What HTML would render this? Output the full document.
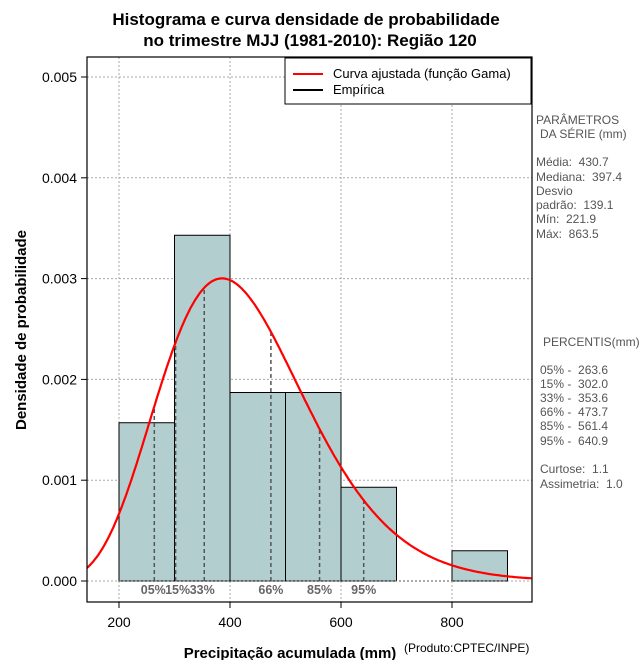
<!DOCTYPE html>
<html><head><meta charset="utf-8"><style>
body{margin:0;background:#fff;width:640px;height:660px;overflow:hidden}
svg{font-family:"Liberation Sans",sans-serif}
text{white-space:pre}
</style></head><body>
<svg id="c" width="640" height="660"></svg>
<script>
const binStarts=[200,300,400,500,600,700,800];
const binDensity=[0.00157,0.00343,0.00187,0.00187,0.00093,0,0.0003];
const gammaParams=[9.59,44.9];
const percentileLabels=["05%","15%","33%","66%","85%","95%"];
const percentileValues=[263.6,302.0,353.6,473.7,561.4,640.9];
const xTicks=[200,400,600,800];
const yTicks=[0,0.001,0.002,0.003,0.004,0.005];
const yTickLabels=["0.000","0.001","0.002","0.003","0.004","0.005"];
const binWidth=100;

const NS="http://www.w3.org/2000/svg";
const svg=document.getElementById('c');
const L=87,R=532,T=57,B=602;
const x=v=>119+(v-200)*0.555;
const y=v=>581-v*100800;
function el(t,a,txt){const e=document.createElementNS(NS,t);for(const k in a)e.setAttribute(k,a[k]);if(txt!=null)e.textContent=txt;svg.appendChild(e);return e;}
function lgamma(z){const g=[76.18009172947146,-86.50532032941677,24.01409824083091,-1.231739572450155,0.1208650973866179e-2,-0.5395239384953e-5];let xx=z,yy=z,tmp=xx+5.5;tmp-=(xx+0.5)*Math.log(tmp);let ser=1.000000000190015;for(let j=0;j<6;j++)ser+=g[j]/++yy;return -tmp+Math.log(2.5066282746310005*ser/xx);}
function pdf(v){const k=gammaParams[0],th=gammaParams[1];return Math.exp((k-1)*Math.log(v)-v/th-lgamma(k)-k*Math.log(th));}

xTicks.forEach(t=>{const g=el('line',{x1:x(t),x2:x(t),y1:T,y2:B,stroke:'#aaa','stroke-dasharray':'2,2'});});
yTicks.forEach(t=>{const g=el('line',{x1:L,x2:R,y1:y(t),y2:y(t),stroke:'#aaa','stroke-dasharray':'2,2'});});
binStarts.forEach((s,i)=>{if(binDensity[i]<=0)return;const r=el('rect',{x:x(s),y:y(binDensity[i]),width:x(s+binWidth)-x(s),height:y(0)-y(binDensity[i]),fill:'#b3cece',stroke:'#000','stroke-width':1});});
el('line',{x1:x(200),x2:x(900),y1:y(0),y2:y(0),stroke:'#555','stroke-dasharray':'2,2'});
percentileValues.forEach((p,i)=>{const l=el('line',{x1:x(p),x2:x(p),y1:y(0),y2:y(pdf(p)),stroke:'#555','stroke-width':1.5,'stroke-dasharray':'4,3'});});
percentileLabels.forEach((t,i)=>{const tx=el('text',{x:x(percentileValues[i])+(i==0?-1:i==1?2:i==2?-2:0),y:594,'text-anchor':'middle','font-size':12.5,'font-weight':'bold',fill:'#666'},t);});
let d='';for(let v=142;v<=944;v+=3){d+=(d?'L':'M')+x(v).toFixed(1)+','+y(pdf(v)).toFixed(1);}
const cp=document.createElementNS(NS,'clipPath');cp.id='clip';const cr=document.createElementNS(NS,'rect');cr.setAttribute('x',L);cr.setAttribute('y',T);cr.setAttribute('width',R-L);cr.setAttribute('height',B-T);cp.appendChild(cr);svg.appendChild(cp);
const cv=el('path',{d:d,fill:'none',stroke:'#f00','stroke-width':2.2,'clip-path':'url(#clip)'});
el('rect',{x:L,y:T,width:R-L,height:B-T,fill:'none',stroke:'#000','stroke-width':1.2});
xTicks.forEach(t=>{el('line',{x1:x(t),x2:x(t),y1:B,y2:B+6,stroke:'#000'});const tx=el('text',{x:x(t),y:627,'text-anchor':'middle','font-size':14},t);});
yTicks.forEach((t,i)=>{el('line',{x1:L-6,x2:L,y1:y(t),y2:y(t),stroke:'#000'});const tx=el('text',{x:77,y:y(t)+5,'text-anchor':'end','font-size':14},yTickLabels[i]);});
el('text',{x:306,y:25,'text-anchor':'middle','font-size':17,'font-weight':'bold'},'Histograma e curva densidade de probabilidade');
el('text',{x:310,y:46,'text-anchor':'middle','font-size':17,'font-weight':'bold'},'no trimestre MJJ (1981-2010): Região 120');
el('text',{x:290,y:658,'text-anchor':'middle','font-size':15,'font-weight':'bold'},'Precipitação acumulada (mm)');
el('text',{x:404,y:652,'font-size':12},'(Produto:CPTEC/INPE)');
el('text',{x:26,y:330,'text-anchor':'middle','font-size':15,'font-weight':'bold',transform:'rotate(-90 26 330)'},'Densidade de probabilidade');
const lg=el('rect',{x:285,y:58,width:246,height:46,fill:'#fff',stroke:'#000'});
el('line',{x1:293,x2:323,y1:74,y2:74,stroke:'#f00','stroke-width':2});
el('text',{x:333,y:78,'font-size':13},'Curva ajustada (função Gama)');
el('line',{x1:293,x2:323,y1:90,y2:90,stroke:'#000','stroke-width':2});
el('text',{x:333,y:94,'font-size':13},'Empírica');
const side=[[536,124,'PARÂMETROS'],[540,138,'DA SÉRIE (mm)'],[536,166,'Média:  430.7'],[536,181,'Mediana:  397.4'],[536,195,'Desvio'],[536,209,'padrão:  139.1'],[536,223,'Mín:  221.9'],[536,238,'Máx:  863.5'],[543,346,'PERCENTIS(mm)'],[540,374,'05% -  263.6'],[540,388,'15% -  302.0'],[540,402,'33% -  353.6'],[540,416,'66% -  473.7'],[540,430,'85% -  561.4'],[540,445,'95% -  640.9'],[540,473,'Curtose:  1.1'],[540,488,'Assimetria:  1.0']];
side.forEach(s=>{const t=el('text',{x:s[0],y:s[1],'font-size':12,fill:'#555'},s[2]);});
</script>
</body></html>
